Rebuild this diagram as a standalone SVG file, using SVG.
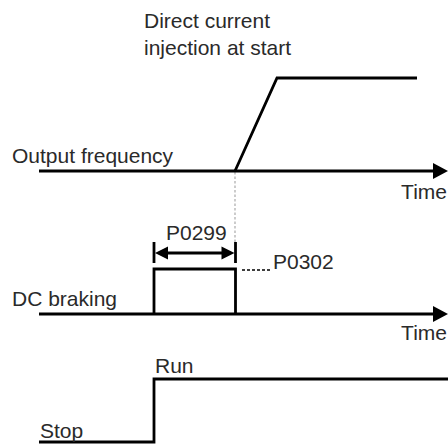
<svg xmlns="http://www.w3.org/2000/svg" width="448" height="444" viewBox="0 0 448 444">
<style>
text{font-family:"Liberation Sans",Arial,sans-serif;font-size:21px;fill:#2a2a2a}
.end{text-anchor:end}
.ln{fill:none;stroke:#000;stroke-width:2.8}
.ah{fill:#000}
.gd{fill:none;stroke:#aaa;stroke-width:1.2;stroke-dasharray:2.5 2}
.dt{fill:none;stroke:#000;stroke-width:1.5;stroke-dasharray:3 2}
</style>
<rect width="448" height="444" fill="#fff"/>
<g id="connectors">
<line class="gd" x1="235" y1="172" x2="235" y2="243"/>
<line class="ln" x1="39" y1="171" x2="436" y2="171"/>
<polygon class="ah" points="433,163 448,171 433,179"/>
<polyline class="ln" points="235,171 277,78 417,78"/>
<line class="ln" x1="39" y1="314" x2="436" y2="314"/>
<polygon class="ah" points="433,306 448,314 433,322"/>
<polyline class="ln" points="154,314 154,269 235.5,269 235.5,314"/>
<line class="ln" x1="154" y1="242" x2="154" y2="263"/>
<line class="ln" x1="235.5" y1="242" x2="235.5" y2="263"/>
<line class="ln" x1="162" y1="253" x2="228" y2="253"/>
<polygon class="ah" points="155,253 168,246.5 168,259.5"/>
<polygon class="ah" points="234.5,253 221.5,246.5 221.5,259.5"/>
<line class="dt" x1="242" y1="270" x2="272" y2="270"/>
<polyline class="ln" points="39,442 154,442 154,379 448,379"/>
</g>
<g id="title"><text x="144" y="28">Direct current</text><text x="144" y="55">injection at start</text></g>
<g id="output-frequency"><text x="12" y="163">Output frequency</text></g>
<g id="time1"><text class="end" x="447" y="199">Time</text></g>
<g id="p0299"><text x="166" y="240">P0299</text></g>
<g id="p0302"><text x="273" y="269">P0302</text></g>
<g id="dc-braking"><text x="12" y="306">DC braking</text></g>
<g id="time2"><text class="end" x="447" y="340">Time</text></g>
<g id="run"><text x="155" y="373">Run</text></g>
<g id="stop"><text x="40" y="438">Stop</text></g>
</svg>
